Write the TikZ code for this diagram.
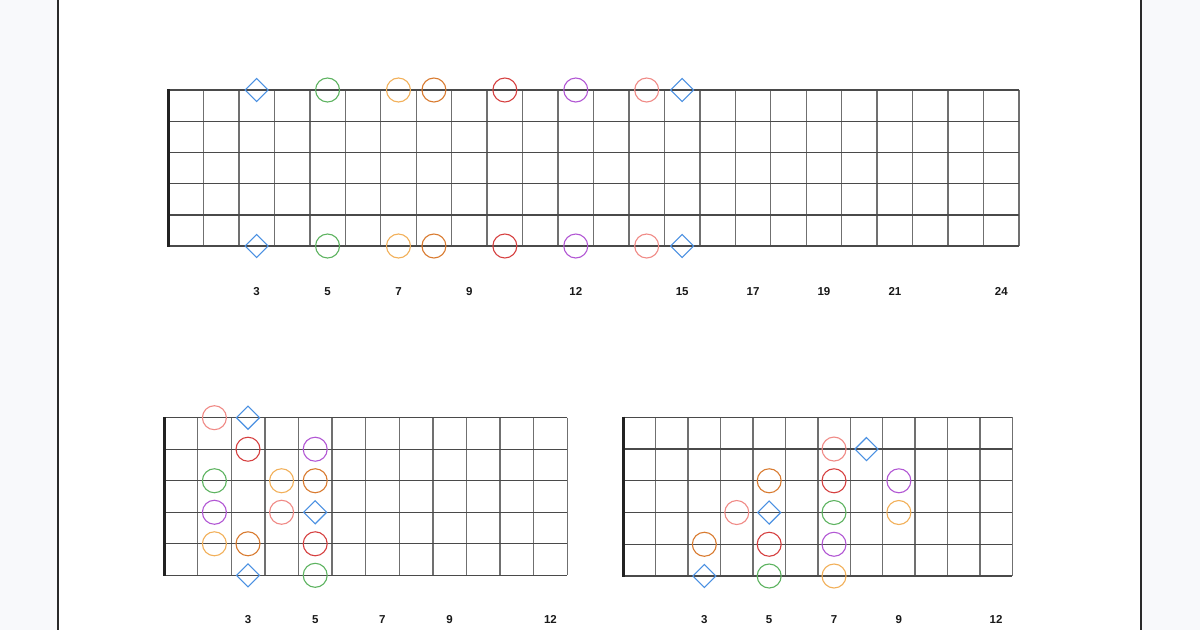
\documentclass[tikz,border=0pt]{standalone}
\usepackage{fontspec}
\setmainfont{Liberation Sans}
\usetikzlibrary{shapes.geometric}
\definecolor{bg}{HTML}{F8F9FB}
\definecolor{pageedge}{HTML}{2A2A2A}
\definecolor{stringc}{HTML}{4A4A4A}
\definecolor{fretc}{HTML}{707070}
\definecolor{nutc}{HTML}{222222}
\definecolor{blu}{HTML}{4A90E2}
\definecolor{grn}{HTML}{5DB360}
\definecolor{lor}{HTML}{F2B05A}
\definecolor{org}{HTML}{D97B30}
\definecolor{rd}{HTML}{D64040}
\definecolor{pur}{HTML}{B257D4}
\definecolor{sal}{HTML}{F08A86}
\tikzset{
  fret/.style={draw=fretc, line width=1.4pt},
  stringline/.style={draw=stringc, line width=1.4pt},
  nut/.style={draw=nutc, line width=3pt},
  cir/.style={circle, minimum size=24pt, inner sep=0pt, line width=1.1pt, fill=none},
  dia/.style={diamond, minimum size=23.5pt, inner sep=0pt, line width=1.1pt, fill=none},
  lbl/.style={font=\bfseries\fontsize{11.5}{13}\selectfont, text=black!90, inner sep=0pt, anchor=base}
}
\begin{document}
\begin{tikzpicture}[x=1pt,y=-1pt]
\useasboundingbox (0,0) rectangle (1200,630);
\fill[bg] (0,0) rectangle (1200,630);
\fill[white] (58,0) rectangle (1141,630);
\draw[pageedge, line width=2pt] (58,0) -- (58,630);
\draw[pageedge, line width=2pt] (1141,0) -- (1141,630);

% ---------- top fretboard (24 frets) ----------
\foreach \i in {1,...,24} \draw[fret] ({168+\i*35.458},90) -- ({168+\i*35.458},246);
\foreach \k in {0,...,5} \draw[stringline] (168,{90+\k*31.2}) -- (1019,{90+\k*31.2});
\draw[nut] (168,89.4) -- (168,246.6);
\foreach \f/\c/\s [count=\n] in {3/blu/dia,5/grn/cir,7/lor/cir,8/org/cir,10/rd/cir,12/pur/cir,14/sal/cir,15/blu/dia}{
  \node[\s, draw=\c] (ta\n) at ({168+(\f-0.5)*35.458},90) {};
  \node[\s, draw=\c] (tb\n) at ({168+(\f-0.5)*35.458},246) {};
}
\foreach \f in {3,5,7,9,12,15,17,19,21,24}
  \node[lbl] (tl\f) at ({168+(\f-0.5)*35.458},295.2) {\f};

% ---------- bottom left fretboard (12 frets) ----------
\foreach \i in {1,...,12} \draw[fret] ({164+\i*33.6},417.7) -- ({164+\i*33.6},575.3);
\foreach \k in {0,...,5} \draw[stringline] (164,{417.7+\k*31.52}) -- (567.2,{417.7+\k*31.52});
\draw[nut] (164,417.1) -- (164,575.9);
\foreach \f/\s/\c/\sh [count=\n] in {2/0/sal/cir,3/0/blu/dia,3/1/rd/cir,5/1/pur/cir,2/2/grn/cir,4/2/lor/cir,5/2/org/cir,2/3/pur/cir,4/3/sal/cir,5/3/blu/dia,2/4/lor/cir,3/4/org/cir,5/4/rd/cir,3/5/blu/dia,5/5/grn/cir}
  \node[\sh, draw=\c] (la\n) at ({164+(\f-0.5)*33.6},{417.7+\s*31.52}) {};
\foreach \f in {3,5,7,9,12}
  \node[lbl] (ll\f) at ({164+(\f-0.5)*33.6},623.2) {\f};

% ---------- bottom right fretboard (12 frets) ----------
\foreach \i in {1,...,12} \draw[fret] ({623.3+\i*32.42},417.3) -- ({623.3+\i*32.42},576);
\foreach \k in {0,...,5} \draw[stringline] (623.3,{417.3+\k*31.74}) -- (1012.3,{417.3+\k*31.74});
\draw[nut] (623.3,416.7) -- (623.3,576.6);
\foreach \f/\s/\c/\sh [count=\n] in {7/1/sal/cir,8/1/blu/dia,5/2/org/cir,7/2/rd/cir,9/2/pur/cir,4/3/sal/cir,5/3/blu/dia,7/3/grn/cir,9/3/lor/cir,3/4/org/cir,5/4/rd/cir,7/4/pur/cir,3/5/blu/dia,5/5/grn/cir,7/5/lor/cir}
  \node[\sh, draw=\c] (ra\n) at ({623.3+(\f-0.5)*32.42},{417.3+\s*31.74}) {};
\foreach \f in {3,5,7,9,12}
  \node[lbl] (rl\f) at ({623.3+(\f-0.5)*32.42},623.2) {\f};
\end{tikzpicture}
\end{document}
